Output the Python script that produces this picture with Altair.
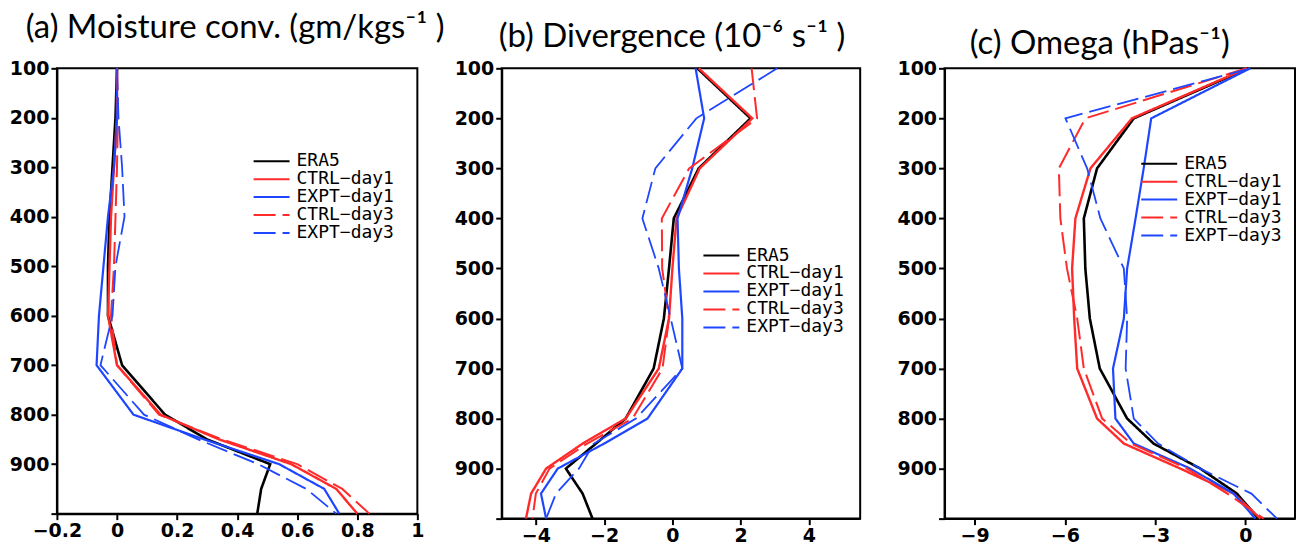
import altair as alt
import pandas as pd

# Pressure levels (hPa) at which every profile is given
LEVELS = [100, 200, 300, 400, 500, 600, 700, 800, 850, 900, 950, 1000]
Y_TICKS = [100, 200, 300, 400, 500, 600, 700, 800, 900, 1000]

SERIES = ["ERA5", "CTRL-day1", "EXPT-day1", "CTRL-day3", "EXPT-day3"]
COLORS = ["#000000", "#ff2b2b", "#1e46ff", "#ff2b2b", "#1e46ff"]
DASHES = [[1, 0], [1, 0], [1, 0], [22, 7], [22, 7]]
WIDTHS = [2.6, 1.8, 1.8, 1.8, 1.8]

# (a) Moisture convergence (gm/kg s-1)
MC_ERA5 = [0.0, -0.005, -0.015, -0.025, -0.03, -0.03, 0.017, 0.16, 0.30, 0.51, 0.48, 0.467]
MC_CTRL1 = [0.0, 0.0, -0.01, -0.02, -0.025, -0.03, 0.0, 0.145, 0.34, 0.58, 0.73, 0.80]
MC_EXPT1 = [0.0, 0.0, -0.01, -0.03, -0.045, -0.06, -0.068, 0.055, 0.29, 0.54, 0.69, 0.74]
MC_CTRL3 = [0.0, 0.003, 0.0, -0.005, -0.01, -0.02, 0.0, 0.14, 0.35, 0.60, 0.75, 0.84]
MC_EXPT3 = [0.0, 0.005, 0.017, 0.025, -0.005, -0.015, -0.055, 0.09, 0.27, 0.47, 0.63, 0.73]

# (b) Divergence (1e-6 s-1)
DIV_ERA5 = [0.73, 2.29, 0.77, 0.04, -0.1, -0.25, -0.55, -1.37, -2.24, -3.12, -2.63, -2.34]
DIV_CTRL1 = [0.77, 2.34, 0.8, 0.12, 0.0, -0.1, -0.4, -1.37, -2.63, -3.7, -4.14, -4.29]
DIV_EXPT1 = [0.68, 0.93, 0.58, 0.15, 0.19, 0.29, 0.29, -0.73, -2.0, -3.36, -3.85, -3.7]
DIV_CTRL3 = [2.32, 2.48, 0.49, -0.31, -0.3, -0.1, -0.29, -1.17, -2.5, -3.6, -4.0, -4.1]
DIV_EXPT3 = [3.07, 0.7, -0.5, -0.88, -0.4, -0.05, 0.29, -1.07, -2.3, -2.74, -3.41, -3.7]

# (c) Omega (hPa s-1)
OM_ERA5 = [0.1, -3.71, -4.93, -5.37, -5.32, -5.17, -4.84, -3.93, -3.05, -1.5, -0.28, 0.44]
OM_CTRL1 = [0.05, -3.77, -5.15, -5.65, -5.76, -5.69, -5.59, -4.93, -4.04, -2.16, -0.39, 0.5]
OM_EXPT1 = [0.16, -3.13, -3.38, -3.65, -3.93, -4.04, -4.4, -4.32, -3.71, -1.83, -0.39, 0.33]
OM_CTRL3 = [0.05, -5.32, -6.2, -6.15, -5.93, -5.59, -5.37, -4.76, -3.8, -1.94, -0.6, 0.61]
OM_EXPT3 = [0.16, -5.98, -5.26, -4.82, -4.04, -3.93, -3.98, -3.71, -2.9, -1.5, 0.2, 1.05]


def profiles(columns):
    rows = []
    for name, values in zip(SERIES, columns):
        for p, v in zip(LEVELS, values):
            rows.append({"series": name, "p": p, "v": v})
    return pd.DataFrame(rows)


def legend(lx, ly):
    # a wide horizontal stroke as the key symbol
    return alt.Legend(
        title=None, orient="none", legendX=lx, legendY=ly,
        symbolType="M-3,0H3", symbolSize=144, symbolStrokeWidth=2,
        labelFont="DejaVu Sans Mono", labelFontSize=18, labelColor="black",
        labelOffset=16, rowPadding=-2.5, padding=0,
        labelExpr="replace(datum.label, '-', '\u2212')",
    )


def panel(df, title, xdom, xticks, xfmt, w, h, tdy, tdx, lx, ly):
    return alt.Chart(
        df,
        title=alt.TitleParams(title, offset=0, dy=tdy, dx=tdx, anchor="middle", frame="group",
                              baseline="alphabetic", font="Lato", fontSize=33,
                              fontWeight="normal", color="black"),
    ).mark_line().encode(
        x=alt.X("v:Q", scale=alt.Scale(domain=xdom, nice=False, zero=False),
                axis=alt.Axis(values=xticks, format=xfmt, title=None, grid=False,
                              labelFlush=False, labelOverlap=False)),
        y=alt.Y("p:Q", scale=alt.Scale(domain=[100, 1000], reverse=True, nice=False, zero=False),
                axis=alt.Axis(values=Y_TICKS, title=None, grid=False,
                              labelExpr="datum.value == 1000 ? '' : datum.label")),
        color=alt.Color("series:N", scale=alt.Scale(domain=SERIES, range=COLORS),
                        legend=legend(lx, ly)),
        strokeDash=alt.StrokeDash("series:N", scale=alt.Scale(domain=SERIES, range=DASHES),
                                  legend=legend(lx, ly)),
        strokeWidth=alt.StrokeWidth("series:N", scale=alt.Scale(domain=SERIES, range=WIDTHS),
                                    legend=None),
        order=alt.Order("p:Q"),
    ).properties(width=w, height=h)


pa = panel(profiles([MC_ERA5, MC_CTRL1, MC_EXPT1, MC_CTRL3, MC_EXPT3]),
           "(a) Moisture conv. (gm/kgs\u207b\u00b9 )",
           [-0.2, 1.0], [-0.2, 0, 0.2, 0.4, 0.6, 0.8, 1.0], ".1~f",
           361, 446, 12, -2, 206, 84)
pb = panel(profiles([DIV_ERA5, DIV_CTRL1, DIV_EXPT1, DIV_CTRL3, DIV_EXPT3]),
           "(b) Divergence (10\u207b\u2076 s\u207b\u00b9 )",
           [-5, 5.5], [-4, -2, 0, 2, 4], "d",
           359, 451, 21, -9, 211, 178.5)
pc = panel(profiles([OM_ERA5, OM_CTRL1, OM_EXPT1, OM_CTRL3, OM_EXPT3]),
           "(c) Omega (hPas\u207b\u00b9)",
           [-10, 1.65], [-9, -6, -3, 0], "d",
           351, 451, 28, -20, 206, 86.5)

indep = dict(color="independent", strokeDash="independent")

chart = alt.hconcat(pa, pb, pc, spacing=84.5, bounds="flush").resolve_scale(**indep).resolve_legend(**indep).properties(
    padding={"left": 8, "top": 11, "right": 0, "bottom": 0},
    background="white",
).configure_view(
    stroke="black", strokeWidth=2
).configure_axis(
    labelFont="DejaVu Sans", labelFontWeight="bold", labelFontSize=19,
    labelColor="black", tickColor="black", tickWidth=2, tickSize=6,
    domainColor="black", domainWidth=2, labelPadding=2,
)

chart.save("out.html", embed_options={"renderer": "svg", "actions": False})
